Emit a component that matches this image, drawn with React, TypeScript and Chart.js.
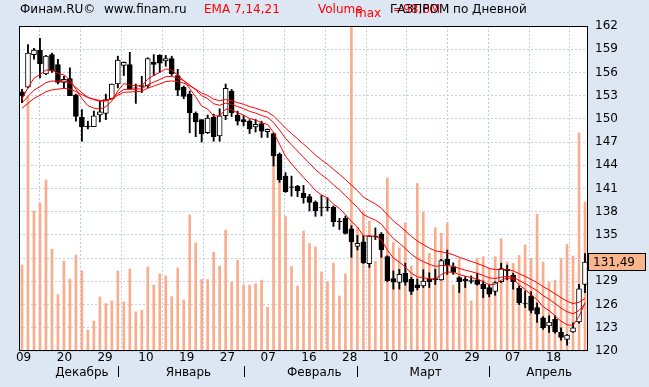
import React, { useEffect, useRef } from 'react';
import { Chart, registerables } from 'chart.js';

Chart.register(...registerables);

// ---- data ----
const opens = [
  153.5, 154.1, 158.3, 158.9, 155.8, 158.3, 157.0, 154.7, 155.2, 153.1,
  150.2, 149.05, 149.0, 150.5, 150.7, 152.6, 154.5, 156.9, 157.0, 154.0,
  154.3, 154.25, 157.35, 158.2, 157.5, 157.8, 155.6, 154.1, 153.2, 150.7,
  149.9, 148.2, 150.2, 147.8, 150.4, 153.6, 150.5, 149.9, 149.7, 148.95,
  149.4, 148.35, 148.1, 145.4, 142.6, 141.2, 141.3, 140.4, 139.95, 139.25,
  138.55, 138.6, 138.6, 136.8, 137.15, 135.8, 133.5, 134.1, 131.3, 134.85,
  135.1, 132.2, 129.35, 128.85, 130.05, 129.3, 128.55, 128.4, 129.3, 129.35,
  129.2, 131.85, 130.9, 129.5, 129.25, 129.1, 129.2, 128.6, 128.2, 127.7,
  128.95, 130.55, 129.8, 128.1, 126.2, 127.05, 125.6, 124.3, 123.25, 124.1,
  122.45, 121.5, 122.45, 123.75, 128.6,
];
const highs = [
  153.8, 159.6, 159.1, 160.4, 158.2, 158.5, 157.7, 155.5, 156.6, 153.2,
  151.2, 149.7, 151.0, 152.3, 153.2, 154.5, 158.1, 157.35, 158.6, 154.5,
  155.5, 157.9, 158.3, 158.3, 158.2, 158.1, 156.4, 154.25, 153.6, 150.9,
  149.9, 150.5, 150.6, 151.3, 154.5, 153.8, 151.0, 150.4, 149.9, 149.9,
  149.7, 148.7, 148.2, 145.6, 143.05, 142.6, 141.4, 141.4, 140.25, 139.4,
  140.1, 139.8, 138.75, 137.15, 137.45, 136.2, 134.95, 134.9, 134.9, 135.9,
  135.3, 132.3, 130.35, 130.55, 131.35, 129.5, 129.3, 130.5, 130.1, 130.55,
  131.85, 133.05, 131.4, 129.6, 129.6, 129.7, 130.05, 129.05, 128.5, 128.95,
  131.35, 131.1, 130.05, 128.4, 127.75, 127.65, 126.2, 124.45, 124.55, 124.55,
  123.0, 122.15, 123.65, 128.6, 132.6,
];
const lows = [
  152.1, 154.0, 157.7, 155.3, 155.7, 156.0, 154.5, 154.0, 153.0, 149.7,
  147.1, 148.7, 149.0, 149.6, 149.9, 152.6, 154.0, 155.6, 153.8, 152.0,
  153.4, 154.0, 155.6, 156.0, 156.8, 155.6, 153.0, 152.6, 148.2, 147.7,
  147.0, 148.1, 147.1, 147.1, 149.9, 150.3, 149.2, 149.1, 148.1, 148.3,
  147.6, 147.6, 143.9, 141.8, 140.5, 140.0, 139.95, 139.1, 138.1, 137.4,
  137.45, 138.1, 136.1, 135.7, 135.1, 132.1, 133.05, 131.3, 130.8, 134.4,
  132.1, 128.95, 128.0, 128.0, 128.5, 127.3, 127.9, 128.2, 128.2, 128.6,
  129.15, 129.9, 129.9, 127.55, 128.2, 128.75, 128.5, 126.9, 127.0, 127.2,
  128.85, 129.2, 128.0, 126.0, 125.6, 124.9, 123.7, 122.8, 122.4, 122.3,
  121.4, 120.75, 122.4, 123.6, 127.55,
];
const closes = [
  153.0, 158.5, 158.9, 157.1, 158.1, 156.2, 154.7, 155.1, 153.0, 150.3,
  149.0, 148.95, 150.4, 150.9, 152.5, 154.5, 157.6, 157.3, 153.9, 153.95,
  154.2, 157.8, 157.05, 157.2, 157.8, 155.8, 153.7, 152.9, 150.8, 149.6,
  148.1, 150.1, 147.7, 150.4, 153.95, 150.8, 149.7, 149.6, 148.7, 149.3,
  148.4, 148.65, 145.2, 142.1, 140.6, 141.15, 140.7, 139.8, 139.2, 138.1,
  138.5, 138.5, 136.7, 136.7, 135.2, 134.1, 133.9, 131.4, 134.85, 134.75,
  133.05, 129.05, 128.9, 129.9, 128.9, 127.7, 128.2, 129.05, 128.95, 129.2,
  131.7, 131.1, 130.15, 128.95, 129.05, 129.0, 128.6, 128.05, 127.35, 128.85,
  130.65, 130.35, 128.95, 126.25, 126.15, 125.25, 124.75, 123.0, 123.75, 122.45,
  121.75, 122.05, 123.0, 128.05, 131.49,
];
// volume, millions
const volumes = [
  26.1, 77.2, 42.5, 44.9, 51.9, 30.9, 17.1, 27.3, 21.8, 29.1,
  24.3, 6.4, 9.1, 16.4, 14.4, 15.2, 24.3, 14.9, 24.9, 11.9,
  12.4, 25.5, 20.0, 23.4, 22.8, 16.5, 25.2, 15.5, 41.3, 32.8,
  21.7, 21.7, 30.0, 25.8, 36.7, 20.9, 27.6, 20.0, 20.0, 20.4,
  21.5, 13.3, 59.5, 51.5, 40.8, 25.6, 19.7, 36.4, 32.6, 31.6,
  24.0, 21.0, 26.7, 16.7, 23.4, 98.6, 37.6, 42.5, 39.4, 27.2,
  31.3, 52.5, 32.9, 31.3, 38.9, 25.8, 50.8, 42.2, 29.6, 37.4,
  35.7, 38.9, 20.0, 28.1, 22.0, 15.2, 28.1, 28.6, 25.0, 28.6,
  34.1, 27.0, 26.6, 29.0, 32.2, 28.1, 41.5, 27.0, 20.9, 21.5,
  28.1, 32.4, 28.8, 66.2, 45.2,
];
const volumeMax = 98.6;

const emaPeriods = [7, 14, 21];
const emaStart = [152.4, 151.9, 151.2]; // EMA levels just before the first candle

const dayLabels = ['09', '20', '29', '10', '19', '27', '07', '16', '28', '10', '20', '29', '07', '18'];
const dayTickPos = [-0.4, 6.41, 13.21, 20.02, 26.82, 33.63, 40.44, 47.24, 54.05, 60.85, 67.66, 74.47, 81.27, 88.08];

const monthLabels = ['Декабрь', 'Январь', 'Февраль', 'Март', 'Апрель'];
const monthPos = [10, 27.8, 48.8, 67.4, 88];
const monthSep = [16, 37, 56, 78];

const lastPriceLabel = '131,49';

const BG = '#dde6f3';
const VOL_COLOR = '#f8ae8c';
const GRID = '#c4cde3';
const FONT = 'DejaVu Sans';

function ema(values: number[], period: number, start: number): number[] {
  const k = 2 / (period + 1);
  let e = start;
  return values.map((v) => (e = e + k * (v - e)));
}

const deco = {
  id: 'deco',
  beforeDraw(chart: any) {
    const { ctx, chartArea: a } = chart;
    ctx.save();
    ctx.fillStyle = BG;
    ctx.fillRect(0, 0, chart.width, chart.height);
    ctx.fillStyle = '#ffffff';
    ctx.fillRect(a.left, a.top, a.right - a.left, a.bottom - a.top);
    ctx.restore();
  },
  afterDraw(chart: any) {
    const { ctx, chartArea: a } = chart;
    const xs = chart.scales.x;
    const ys = chart.scales.y;
    ctx.save();
    // frame
    ctx.strokeStyle = '#000';
    ctx.lineWidth = 1;
    ctx.strokeRect(a.left + 0.5, a.top + 0.5, a.right - a.left - 1, a.bottom - a.top - 1);

    // header
    ctx.font = `12px "${FONT}"`;
    ctx.textBaseline = 'alphabetic';
    ctx.textAlign = 'left';
    ctx.fillStyle = '#000';
    ctx.fillText('Финам.RU©', 20, 13);
    ctx.fillText('www.finam.ru', 104, 13);
    ctx.fillStyle = '#ff0000';
    ctx.fillText('EMA 7,14,21', 204, 13);
    ctx.fillText('Volume', 318, 13);
    ctx.fillText('max', 355, 17);
    ctx.fillText('=' + String(volumeMax).replace('.', ',') + 'М', 393, 13);
    ctx.fillStyle = '#000';
    ctx.fillText('ГАЗПРОМ по Дневной', 390, 13);

    // months
    ctx.textAlign = 'center';
    monthLabels.forEach((m, i) => {
      ctx.fillText(m, xs.getPixelForValue(monthPos[i]), 376);
    });
    monthSep.forEach((p) => {
      const x = Math.round(xs.getPixelForValue(p)) + 0.5;
      ctx.beginPath();
      ctx.moveTo(x, 366);
      ctx.lineTo(x, 377);
      ctx.stroke();
    });

    // last price tag
    const last = closes[closes.length - 1];
    const yp = Math.round(ys.getPixelForValue(last));
    ctx.fillStyle = '#f9b68c';
    ctx.fillRect(588, yp - 9, 58, 18);
    ctx.strokeRect(588.5, yp - 8.5, 57, 17);
    ctx.fillStyle = '#000';
    ctx.textAlign = 'left';
    ctx.textBaseline = 'middle';
    ctx.fillText(lastPriceLabel, 593, yp + 0.5);
    ctx.restore();
  },
};

export default function App() {
  const ref = useRef<HTMLCanvasElement>(null);

  useEffect(() => {
    if (!ref.current) return;
    Chart.defaults.font.family = FONT;
    Chart.defaults.font.size = 12;
    Chart.defaults.color = '#000';

    const idx = closes.map((_, i) => i);
    const up = closes.map((c, i) => c >= opens[i]);
    const emaSeries = emaPeriods.map((p, k) => ema(closes, p, emaStart[k]));

    const chart = new Chart(ref.current, {
      type: 'bar',
      data: {
        datasets: [
          ...emaSeries.map((s, k) => ({
            type: 'line' as const,
            label: 'EMA ' + emaPeriods[k],
            data: s.map((v, i) => ({ x: idx[i], y: v })),
            borderColor: '#ff0000',
            borderWidth: 1,
            pointRadius: 0,
            tension: 0,
            yAxisID: 'y',
            order: 1,
          })),
          {
            type: 'bar' as const,
            label: 'bodies',
            data: idx.map((i) => ({ x: i, y: [opens[i], closes[i]] })),
            backgroundColor: up.map((u) => (u ? '#ffffff' : '#000000')),
            borderColor: '#000000',
            borderWidth: 1,
            borderSkipped: false,
            barThickness: 5,
            grouped: false,
            yAxisID: 'y',
            order: 2,
          },
          {
            type: 'bar' as const,
            label: 'wicks',
            data: idx.map((i) => ({ x: i, y: [lows[i], highs[i]] })),
            backgroundColor: '#000000',
            borderWidth: 0,
            barThickness: 1.2,
            grouped: false,
            yAxisID: 'y',
            order: 3,
          },
          {
            type: 'bar' as const,
            label: 'Volume',
            data: idx.map((i) => ({ x: i, y: volumes[i] })),
            backgroundColor: VOL_COLOR,
            borderWidth: 0,
            barThickness: 2,
            grouped: false,
            yAxisID: 'yv',
            order: 4,
          },
        ] as any,
      },
      options: {
        animation: false,
        responsive: false,
        devicePixelRatio: 1,
        layout: { padding: { left: 19, top: 26, right: 0, bottom: 0 } },
        plugins: { legend: { display: false }, tooltip: { enabled: false } },
        scales: {
          x: {
            type: 'linear',
            min: -0.5,
            max: 94.5,
            bounds: 'data',
            offset: false,
            afterBuildTicks: (s: any) => {
              s.ticks = dayTickPos.map((v) => ({ value: v }));
            },
            afterFit: (s: any) => {
              s.height = 36;
            },
            ticks: {
              autoSkip: false,
              maxRotation: 0,
              padding: 0,
              labelOffset: 4,
              color: '#000',
              font: { family: FONT, size: 12 },
              callback: (_v: any, i: number) => dayLabels[i],
            },
            grid: { color: GRID, drawTicks: false, lineWidth: 1 },
            border: { display: false, dash: [2, 2] },
          },
          y: {
            type: 'linear',
            position: 'right',
            min: 120,
            max: 162,
            afterFit: (s: any) => {
              s.width = 61;
            },
            ticks: {
              stepSize: 3,
              padding: 7,
              color: '#000',
              font: { family: FONT, size: 12 },
              callback: (v: any) => (v === 132 ? '' : String(v)),
            },
            grid: { color: GRID, drawTicks: false, lineWidth: 1 },
            border: { display: false, dash: [2, 2] },
          },
          yv: {
            type: 'linear',
            display: false,
            min: 0,
            max: volumeMax,
          },
        },
      } as any,
      plugins: [deco],
    });
    return () => chart.destroy();
  }, []);

  return (
    <div style={{ position: 'fixed', left: 0, top: 0, width: 649, height: 387 }}>
      <canvas ref={ref} width={649} height={387} style={{ display: 'block' }} />
    </div>
  );
}
